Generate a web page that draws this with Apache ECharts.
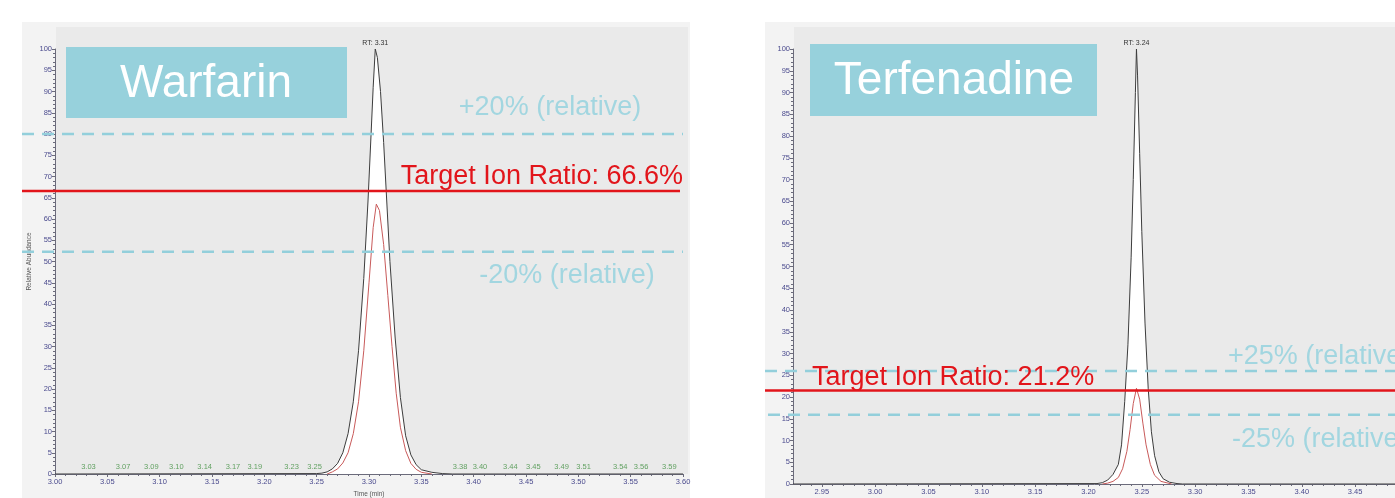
<!DOCTYPE html>
<html><head><meta charset="utf-8">
<script src="https://cdn.jsdelivr.net/npm/echarts@6/dist/echarts.min.js"></script>
<style>html,body{margin:0;padding:0;background:#fff}#c{width:1395px;height:498px}</style>
</head><body><div id="c"></div>
<script>
// ---------- DATA ----------
const warfarinQuant = [[3.00,0],[3.25,0.1],[3.255,0.2],[3.26,0.5],[3.265,1.2],[3.27,2.5],[3.275,5],[3.28,9.5],[3.285,17],[3.29,29],[3.295,46],[3.299,64],[3.302,80],[3.304,91],[3.306,100],[3.308,98],[3.311,90],[3.314,78],[3.317,64],[3.32,50],[3.325,32],[3.33,18],[3.335,9],[3.34,4.5],[3.345,2.2],[3.35,1],[3.36,0.4],[3.37,0.1],[3.38,0],[3.60,0]];
const warfarinQual  = [[3.26,0],[3.265,0.5],[3.27,1.2],[3.275,2.6],[3.28,5],[3.285,9.5],[3.29,17],[3.295,29],[3.30,45],[3.304,58],[3.307,63.5],[3.31,62],[3.314,54],[3.318,42],[3.322,30],[3.326,19],[3.33,11],[3.335,5.5],[3.34,2.5],[3.345,1.1],[3.35,0.4],[3.36,0]];
const warfarinPeakLabels = ["3.03","3.07","3.09","3.10","3.14","3.17","3.19","3.23","3.25","3.38","3.40","3.44","3.45","3.49","3.51","3.54","3.56","3.59"];
const warfarinPeakAnchors = [3.032,3.065,3.092,3.116,3.143,3.170,3.191,3.226,3.248,3.387,3.406,3.435,3.457,3.484,3.505,3.540,3.560,3.587];
const warfarinRT = "RT: 3.31";
const warfarinLines = [80.0, 66.6, 52.3];   // +20%, target, -20% (as drawn)

const terfenadineQuant = [[2.923,0],[3.208,0.1],[3.213,0.3],[3.218,0.9],[3.223,2.2],[3.228,4.5],[3.231,9],[3.234,19],[3.237,32],[3.240,52],[3.242,70],[3.244,90],[3.245,100],[3.246,94],[3.248,76],[3.250,58],[3.253,37],[3.256,22],[3.259,12],[3.262,6.5],[3.266,2.8],[3.270,1.2],[3.276,0.4],[3.283,0.1],[3.288,0],[3.523,0]];
const terfenadineQual  = [[3.213,0],[3.218,0.2],[3.223,0.6],[3.228,1.5],[3.232,3.5],[3.236,7.5],[3.239,12.5],[3.242,18.5],[3.245,22],[3.248,19.5],[3.251,14],[3.254,9],[3.258,4.5],[3.262,2],[3.268,0.6],[3.278,0]];
const terfenadineRT = "RT: 3.24";
const terfenadineLines = [26.0, 21.5, 15.9]; // +25%, target, -25% (as drawn)

const rightMajorTicks = [2.95,3.00,3.05,3.10,3.15,3.20,3.25,3.30,3.35,3.40,3.45,3.50];
const rightMinorTicks = [2.93,2.94,2.96,2.97,2.98,2.99,3.01,3.02,3.03,3.04,3.06,3.07,3.08,3.09,3.11,3.12,3.13,3.14,3.16,3.17,3.18,3.19,3.21,3.22,3.23,3.24,3.26,3.27,3.28,3.29,3.31,3.32,3.33,3.34,3.36,3.37,3.38,3.39,3.41,3.42,3.43,3.44,3.46,3.47,3.48,3.49,3.51,3.52];

// ---------- CHART ----------
const FONT = "'Liberation Sans', Arial, sans-serif";
const AX = '#6b6b7b', LBL = '#4b4b8e';
const chart = echarts.init(document.getElementById('c'));

function yAx(grid, name) {
  return {
    gridIndex: grid, type: 'value', min: 0, max: 100, interval: 5,
    axisLine: {show: true, lineStyle: {color: AX, width: 1}},
    axisTick: {show: true, length: 3, lineStyle: {color: AX}},
    minorTick: {show: true, splitNumber: 5, length: 2, lineStyle: {color: AX}},
    axisLabel: {fontSize: 7.5, color: LBL, margin: 3, fontFamily: FONT},
    splitLine: {show: false},
    name: name, nameLocation: 'middle', nameGap: 22, nameRotate: 90,
    nameTextStyle: {fontSize: 6.5, color: '#555', fontFamily: FONT}
  };
}
function peakMark(data, text) {
  let best = data[0];
  data.forEach(p => { if (p[1] > best[1]) best = p; });
  return {
    symbol: 'circle', symbolSize: 0, animation: false,
    label: {show: true, position: 'top', distance: 2, formatter: text, fontSize: 7, color: '#333', fontFamily: FONT},
    data: [{coord: best}]
  };
}

chart.setOption({
  animation: false,
  grid: [
    {left: 55, top: 49, width: 628, height: 425, outerBoundsMode: 'none', containLabel: false},
    {left: 793, top: 49, width: 640, height: 435, outerBoundsMode: 'none', containLabel: false}
  ],
  xAxis: [
    {gridIndex: 0, type: 'value', position: 'bottom', min: 3.00, max: 3.60, interval: 0.05,
     axisLine: {lineStyle: {color: AX}}, axisTick: {length: 3, lineStyle: {color: AX}},
     minorTick: {show: true, splitNumber: 5, length: 2, lineStyle: {color: AX}},
     axisLabel: {fontSize: 7.5, color: LBL, margin: 4, formatter: v => v.toFixed(2), showMinLabel: true, showMaxLabel: true, fontFamily: FONT},
     splitLine: {show: false},
     name: 'Time (min)', nameLocation: 'middle', nameGap: 17,
     nameTextStyle: {fontSize: 6.5, color: '#555', fontFamily: FONT}},
    {gridIndex: 1, type: 'value', position: 'bottom', min: 2.923, max: 3.523,
     axisLine: {lineStyle: {color: AX}},
     axisTick: {length: 3, lineStyle: {color: AX}, customValues: rightMajorTicks},
     axisLabel: {fontSize: 7.5, color: LBL, margin: 4, customValues: rightMajorTicks, formatter: v => v.toFixed(2), fontFamily: FONT},
     splitLine: {show: false}},
    {gridIndex: 1, type: 'value', position: 'bottom', min: 2.923, max: 3.523,
     axisLine: {show: false},
     axisTick: {length: 2, lineStyle: {color: AX}, customValues: rightMinorTicks},
     axisLabel: {show: false}, splitLine: {show: false}}
  ],
  yAxis: [yAx(0, 'Relative Abundance'), yAx(1, '')],
  series: [
    {type: 'line', xAxisIndex: 0, yAxisIndex: 0, data: warfarinQuant, showSymbol: false, z: 3,
     lineStyle: {color: '#3c3c3c', width: 1}, areaStyle: {color: '#ffffff', opacity: 1},
     markPoint: peakMark(warfarinQuant, warfarinRT)},
    {type: 'line', xAxisIndex: 0, yAxisIndex: 0, data: warfarinQual, showSymbol: false, z: 4,
     lineStyle: {color: '#c85a5a', width: 1}},
    {type: 'scatter', xAxisIndex: 0, yAxisIndex: 0, data: warfarinPeakAnchors.map((t, i) => ({value: [t, 0], name: warfarinPeakLabels[i]})), symbolSize: 1, z: 5,
     itemStyle: {color: 'rgba(0,0,0,0)'},
     label: {show: true, position: 'top', distance: 3, formatter: p => p.name, fontSize: 7.5, color: '#3f8f3f', fontFamily: FONT}},
    {type: 'line', xAxisIndex: 1, yAxisIndex: 1, data: terfenadineQuant, showSymbol: false, z: 3,
     lineStyle: {color: '#3c3c3c', width: 1}, areaStyle: {color: '#ffffff', opacity: 1},
     markPoint: peakMark(terfenadineQuant, terfenadineRT)},
    {type: 'line', xAxisIndex: 1, yAxisIndex: 1, data: terfenadineQual, showSymbol: false, z: 4,
     lineStyle: {color: '#c85a5a', width: 1}}
  ]
});

const yL = v => chart.convertToPixel({yAxisIndex: 0}, v);
const yR = v => chart.convertToPixel({yAxisIndex: 1}, v);
const TEAL = '#97d1dc', DASH = '#93cfdb', RED = '#e2151b', TTXT = '#a2d6e0';

function hline(x1, x2, y, color, dashed) {
  return {type: 'line', z: 100, shape: {x1: x1, y1: y, x2: x2, y2: y},
          style: {stroke: color, lineWidth: 2.5, lineDash: dashed ? [12, 8] : null}};
}
function txt(x, y, text, color, size, align) {
  return {type: 'text', z: 101, x: x, y: y,
          style: {text: text, fill: color, font: size + 'px ' + FONT, textAlign: align || 'center', textVerticalAlign: 'middle'}};
}

chart.setOption({
  graphic: [
    {type: 'rect', z: -100, shape: {x: 22, y: 22, width: 668, height: 476}, style: {fill: '#f3f3f3'}},
    {type: 'rect', z: -99, shape: {x: 56, y: 27, width: 632, height: 447}, style: {fill: '#eaeaea'}},
    {type: 'rect', z: -100, shape: {x: 765, y: 22, width: 640, height: 476}, style: {fill: '#f3f3f3'}},
    {type: 'rect', z: -99, shape: {x: 794, y: 27, width: 610, height: 457}, style: {fill: '#eaeaea'}},
    {type: 'rect', z: 90, shape: {x: 66, y: 47, width: 281, height: 71}, style: {fill: TEAL}},
    txt(206, 84, 'Warfarin', '#ffffff', 46),
    {type: 'rect', z: 90, shape: {x: 810, y: 44, width: 287, height: 72}, style: {fill: TEAL}},
    txt(954, 81, 'Terfenadine', '#ffffff', 46),
    hline(22, 683, yL(warfarinLines[0]), DASH, true),
    hline(22, 683, yL(warfarinLines[2]), DASH, true),
    hline(22, 680, yL(warfarinLines[1]), RED, false),
    txt(550, 108, '+20% (relative)', TTXT, 27),
    txt(683, 177, 'Target Ion Ratio: 66.6%', RED, 27, 'right'),
    txt(567, 276, '-20% (relative)', TTXT, 27),
    hline(765, 1395, yR(terfenadineLines[0]), DASH, true),
    hline(768, 1395, yR(terfenadineLines[2]), DASH, true),
    hline(765, 1395, yR(terfenadineLines[1]), RED, false),
    txt(1228, 357, '+25% (relative)', TTXT, 27, 'left'),
    txt(812, 378, 'Target Ion Ratio: 21.2%', RED, 27, 'left'),
    txt(1232, 440, '-25% (relative)', TTXT, 27, 'left')
  ]
});
</script></body></html>
